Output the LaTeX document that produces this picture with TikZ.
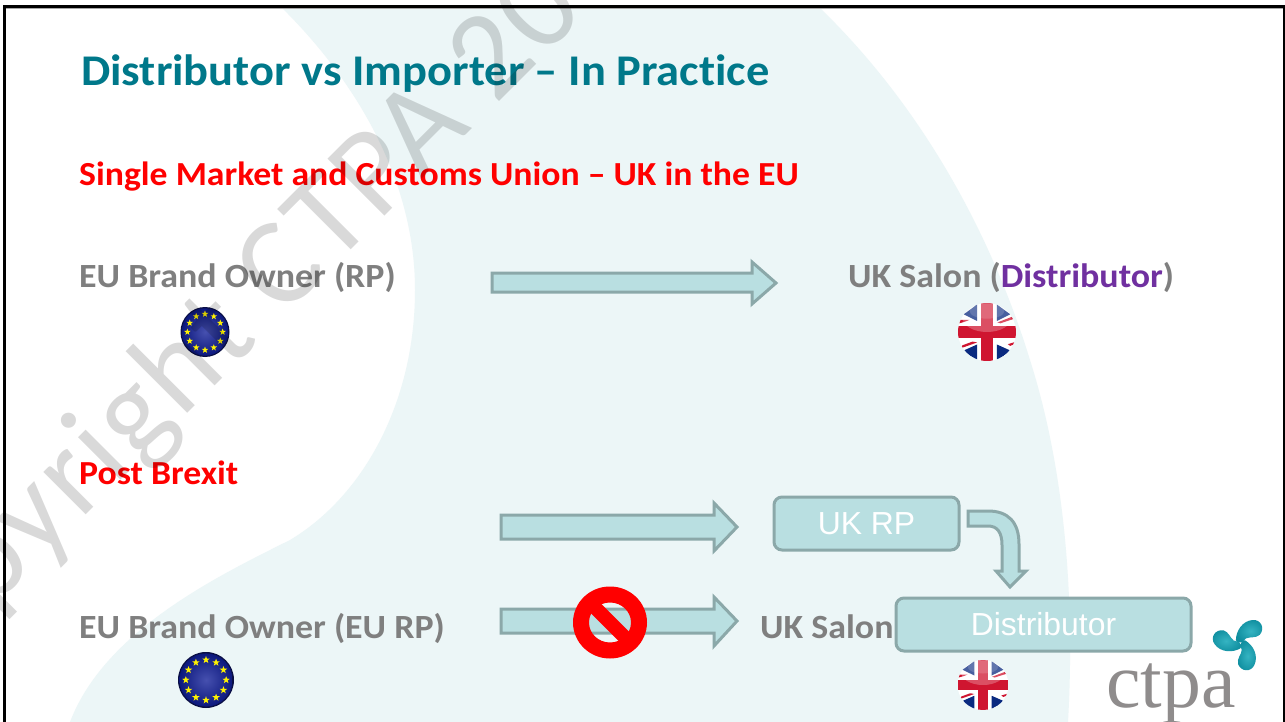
\documentclass[tikz,border=0pt]{standalone}
\usepackage{fontspec}
\setmainfont{Carlito}[FakeStretch=1.06,Ligatures=NoCommon]
\newfontfamily\wmf{Carlito}[Ligatures=NoCommon,LetterSpace=3]
\newfontfamily\arialf{Liberation Sans}
\newfontfamily\serifl{Liberation Serif}
\definecolor{blobc}{HTML}{ECF6F7}
\definecolor{arrowfill}{HTML}{B9DFE1}
\definecolor{arrowline}{HTML}{8BA8A9}
\definecolor{titlec}{HTML}{00788A}
\definecolor{greyt}{HTML}{7F7F7F}
\definecolor{purplet}{HTML}{7030A0}
\definecolor{logoc}{HTML}{0F8E9F}
\definecolor{logoin}{HTML}{35B4C2}
\definecolor{logogrey}{HTML}{8F8C8C}
\definecolor{ukblue}{HTML}{0A2A80}
\definecolor{ukred}{HTML}{CF1530}
\definecolor{euinner}{HTML}{4650AF}
\definecolor{euouter}{HTML}{0C187D}
\definecolor{euring}{HTML}{0A0F45}
\newcommand{\fsz}[1]{\fontsize{#1}{#1}\selectfont}
\tikzset{
  x=1bp,y=-1bp,
  lbl/.style={anchor=base west,inner sep=0pt},
  titlelbl/.style={lbl,font=\bfseries\fsz{44},text=titlec},
  redlbl/.style={lbl,font=\bfseries\fsz{33.8},text=red},
  greylbl/.style={lbl,font=\bfseries\fsz{34},text=greyt},
  blockarrow/.style={fill=arrowfill,draw=arrowline,line width=3bp,miter limit=10},
  stepbox/.style={rounded corners=8bp,fill=arrowfill,draw=arrowline,line width=3bp,
     text=white,font=\arialf\fsz{32},align=center},
  wmtext/.style={anchor=base west,inner sep=0pt,font=\wmf\fsz{126},text=black,text opacity=.15,rotate=45},
}
\newcommand{\euflag}[4]{%
 \begin{scope}[shift={(#1,#2)},xscale=#3,yscale=#4]
  \fill[euring] (0,0) circle (1);
  \shade[inner color=euinner,outer color=euouter] (0,0) circle (.95);
  \foreach \a in {0,30,...,330}{
   \fill[yellow,shift={({.72*cos(\a)},{.72*sin(\a)})},scale=.14]
    (0,-1)--(.24,-.33)--(.95,-.31)--(.38,.12)--(.59,.81)--(0,.4)--(-.59,.81)--(-.38,.12)--(-.95,-.31)--(-.24,-.33)--cycle;}
 \end{scope}}
\newcommand{\ukflag}[4]{%
 \begin{scope}[shift={(#1,#2)},xscale=#3,yscale=#4]
  \clip (0,0) circle (1);
  \fill[white] (-1,-1) rectangle (1,1);
  \fill[ukblue] (-.34,-.95)--(-.34,-.38)--(-.8,-.61)--cycle;
  \fill[ukblue] (.34,-.95)--(.34,-.38)--(.8,-.61)--cycle;
  \fill[ukblue] (-.34,.95)--(-.34,.43)--(-.85,.66)--cycle;
  \fill[ukblue] (.34,.95)--(.34,.43)--(.85,.66)--cycle;
  \fill[ukred] (.36,-.33)--(.95,-.56)--(.98,-.47)--(.46,-.3)--cycle;
  \fill[ukred] (-.95,-.42)--(-.6,-.42)--(-.75,-.36)--(-.95,-.3)--cycle;
  \fill[ukred] (-.34,.36)--(-.9,.56)--(-.85,.46)--(-.5,.33)--cycle;
  \fill[ukred] (.72,.42)--(.98,.34)--(.98,.4)--(.8,.48)--cycle;
  \fill[ukred] (-1,-.21) rectangle (1,.21);
  \fill[ukred] (-.21,-1) rectangle (.21,1);
  \fill[white,opacity=.25] (0,-.5) ellipse (.85 and .5);
  \fill[white,opacity=.15] (0,-.72) ellipse (.6 and .26);
 \end{scope}}
\begin{document}
\begin{tikzpicture}
\useasboundingbox (0,0) rectangle (1285,722);
\clip (0,0) rectangle (1285,722);
\fill[white] (0,0) rectangle (1285,722);
% background blob
\fill[blobc] (282,8) .. controls (345,70) and (415,170) .. (415,290)
  .. controls (415,400) and (365,495) .. (290,540)
  .. controls (220,575) and (105,630) .. (70,722)
  -- (1068,722) .. controls (1075,600) and (1065,470) .. (1030,360)
  .. controls (990,230) and (920,105) .. (820,8) -- cycle;
% frame
\draw[black,line width=3bp] (4.5,722) -- (4.5,7) -- (1284,7) -- (1284,722);
\draw[black!35,line width=1bp] (6,9) -- (1283,9);
% texts
\node[titlelbl] (title) at (81,86) {Distributor vs Importer – In Practice};
\node[redlbl] (single) at (79,186) {Single Market and Customs Union – UK in the EU};
\node[greylbl] (eu1) at (79,287) {EU Brand Owner (RP)};
\node[greylbl] (uk1) at (848,287) {UK Salon (\textcolor{purplet}{Distributor})};
\node[redlbl] (post) at (79,484.5) {Post Brexit};
\node[greylbl] (eu2) at (79,638) {EU Brand Owner (EU RP)};
\node[greylbl] (uk2) at (760,638) {UK Salon};
% arrows
\path[blockarrow] (492,273) -- (752,273) -- (752,262) -- (776,283) -- (752,304) -- (752,292) -- (492,292) -- cycle;
\path[blockarrow] (501,515) -- (714,515) -- (714,503) -- (737,527) -- (714,551) -- (714,539) -- (501,539) -- cycle;
\path[blockarrow] (501,609) -- (714,609) -- (714,597) -- (737,621) -- (714,646) -- (714,633) -- (501,633) -- cycle;
\path[blockarrow] (968,511) -- (988,511) .. controls (1008,511) and (1019,522) .. (1019,544) -- (1019,571) -- (1026,571) -- (1010,587) -- (996,571) -- (1002,571) -- (1002,545) .. controls (1002,532) and (997,526) .. (988,526) -- (968,526) -- cycle;
% boxes
\node[stepbox,minimum width=185bp,minimum height=53bp,inner sep=0pt] (ukrp) at (866.5,523.5) {\raisebox{-1.5bp}{UK RP}};
\node[stepbox,minimum width=295bp,minimum height=53bp,inner sep=0pt] (dist) at (1043.5,624.5) {\raisebox{-.5bp}{Distributor}};
% flags
\euflag{205}{332}{24.5}{25}
\euflag{206}{680}{28}{28}
\ukflag{987}{332}{29}{29}
\ukflag{983}{685}{25.5}{25}
% prohibition sign
\begin{scope}[shift={(610,622.5)}]
 \fill[red,even odd rule] (0,0) ellipse (37 and 36) (0,0) ellipse (21 and 20);
 \begin{scope}
  \clip (0,0) ellipse (30 and 29);
  \draw[red,line width=14bp] (-26,-26) -- (26,26);
 \end{scope}
\end{scope}
% logo
\node[anchor=base west,inner sep=0pt,font=\serifl\fsz{78},text=logogrey] (ctpa) at (1106,707) {ctpa};
\foreach \r in {0,120,240}{
 \begin{scope}[shift={(1240.5,643)},rotate=\r,scale=.92]
  \shade[inner color=logoin,outer color=logoc] (-5,-3) .. controls (-5,-13) and (2,-24) .. (13,-25)
     .. controls (22,-26) and (27,-16) .. (21,-9)
     .. controls (17,-5) and (10,-7) .. (6,-5)
     .. controls (4,-4) and (3,-3) .. (2,-1)
     .. controls (0,0) and (-4,0) .. (-5,-3) -- cycle;
 \end{scope}}
% watermark
\node[wmtext] (wm) at (-110.5,711.5) {Copyright CTPA 20};
\end{tikzpicture}
\end{document}
